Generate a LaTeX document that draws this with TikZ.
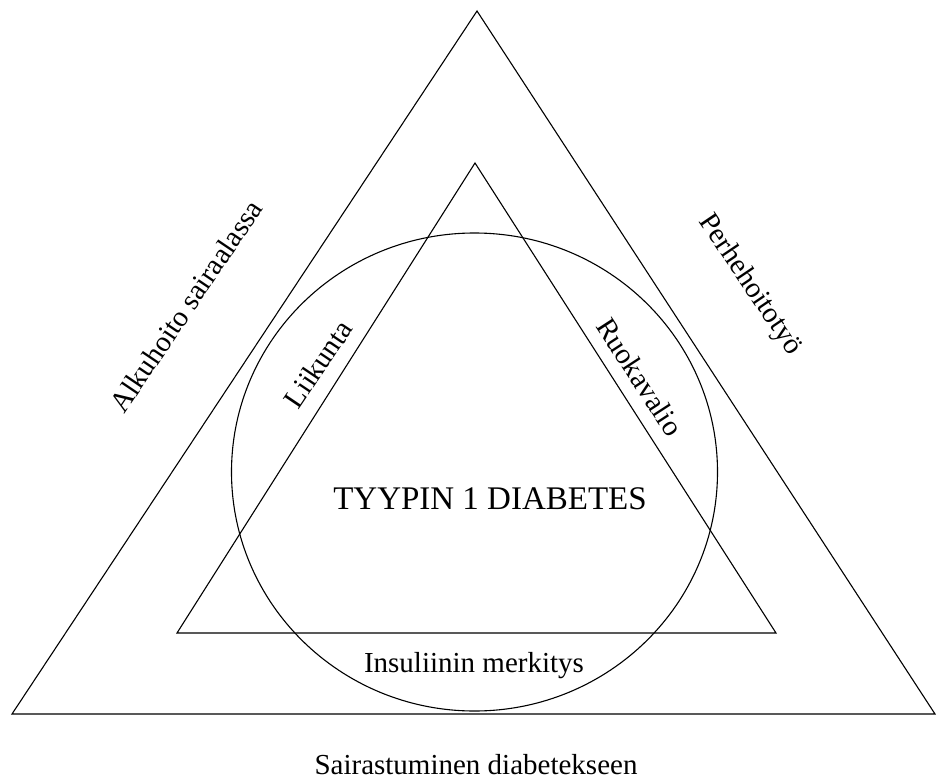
\documentclass[tikz,border=0pt]{standalone}
\usepackage{fontspec}
\setmainfont{Liberation Serif}
\usetikzlibrary{shapes.geometric}
\begin{document}
\begin{tikzpicture}[x=1pt,y=-1pt,
  edge/.style={draw=black,line width=1.1pt,line join=miter},
  lbl/.style={inner sep=0pt,font=\fontsize{29}{31}\selectfont},
  big/.style={inner sep=0pt,font=\fontsize{33}{35}\selectfont}]
\useasboundingbox[fill=white] (0,0) rectangle (937,781);
% outer triangle
\coordinate (oA) at (477,11);
\coordinate (oL) at (12,714);
\coordinate (oR) at (935,714);
\draw[edge] (oA) -- (oL) -- (oR) -- cycle;
% inner triangle
\coordinate (iA) at (475,163);
\coordinate (iL) at (177,633);
\coordinate (iR) at (776,633);
\draw[edge] (iA) -- (iL) -- (iR) -- cycle;
% circle
\node[edge,ellipse,minimum width=486pt,minimum height=478pt,inner sep=0pt] (circ) at (474.5,472) {};
% labels
\node[big] (main) at (490,499) {TYYPIN 1 DIABETES};
\node[lbl] (ins) at (474,666) {Insuliinin merkitys};
\node[lbl] (sai) at (476,765) {Sairastuminen diabetekseen};
\node[lbl,rotate=56] (alk) at (186,306) {Alkuhoito sairaalassa};
\node[lbl,rotate=-56] (per) at (750,285) {Perhehoitotyö};
\node[lbl,rotate=56] (lii) at (318,364) {Liikunta};
\node[lbl,rotate=-57] (ruo) at (640,377) {Ruokavalio};
\end{tikzpicture}
\end{document}
